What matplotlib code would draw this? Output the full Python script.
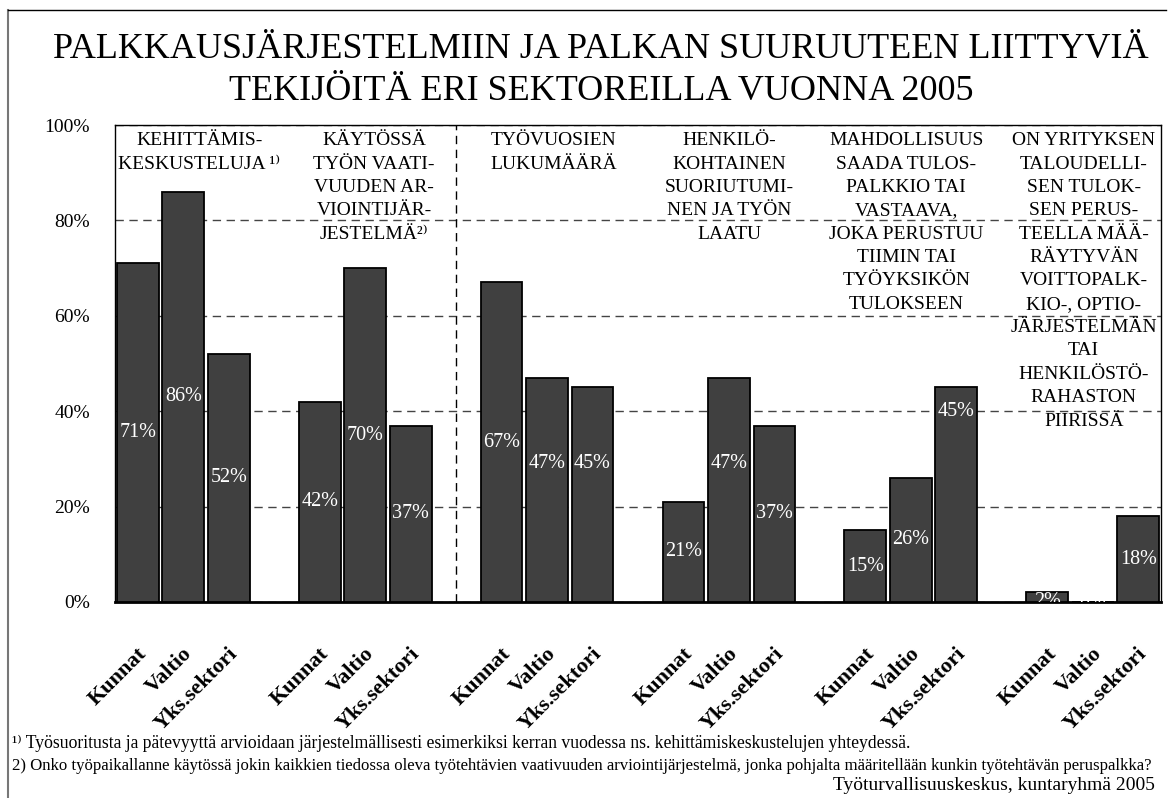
import matplotlib
matplotlib.use('Agg')
import matplotlib.pyplot as plt
from matplotlib.lines import Line2D
from matplotlib.transforms import ScaledTranslation

plt.rcParams['font.family'] = ['Liberation Serif', 'DejaVu Serif', 'DejaVu Sans']

# data
sektorit = ['Kunnat', 'Valtio', 'Yks.sektori']
otsikot = [
    'KEHITTÄMIS-\nKESKUSTELUJA ¹⁾',
    'KÄYTÖSSÄ\nTYÖN VAATI-\nVUUDEN AR-\nVIOINTIJÄR-\nJESTELMÄ²⁾',
    'TYÖVUOSIEN\nLUKUMÄÄRÄ',
    'HENKILÖ-\nKOHTAINEN\nSUORIUTUMI-\nNEN JA TYÖN\nLAATU',
    'MAHDOLLISUUS\nSAADA TULOS-\nPALKKIO TAI\nVASTAAVA,\nJOKA PERUSTUU\nTIIMIN TAI\nTYÖYKSIKÖN\nTULOKSEEN',
    'ON YRITYKSEN\nTALOUDELLI-\nSEN TULOK-\nSEN PERUS-\nTEELLA MÄÄ-\nRÄYTYVÄN\nVOITTOPALK-\nKIO-, OPTIO-\nJÄRJESTELMÄN\nTAI\nHENKILÖSTÖ-\nRAHASTON\nPIIRISSÄ',
]
kunnat = [71, 42, 67, 21, 15, 2]
valtio = [86, 70, 47, 47, 26, 0]
yks = [52, 37, 45, 37, 45, 18]

W, H = 1174, 798
fig = plt.figure(figsize=(W / 100, H / 100), dpi=100)
ax = fig.add_axes([115 / W, 1 - 602 / H, (1161 - 115) / W, (602 - 125) / H])

bar_col = '#404040'
sarjat = [kunnat, valtio, yks]
# label heights that are not centred in the bar (layout only)
lab_y = {(2, 1): 29, (2, 2): 29, (3, 1): 29, (4, 2): 40, (5, 0): 0}

for j, sarja in enumerate(sarjat):
    xs = [4 * g + j for g in range(len(sarja))]
    ax.bar(xs, sarja, width=0.92, color=bar_col, edgecolor='black',
           linewidth=1.3, zorder=3)
    for g, v in enumerate(sarja):
        y = lab_y.get((g, j), v / 2)
        ax.text(4 * g + j, y, f'{v}%', color='white', fontsize=14.5,
                ha='center', va='center', zorder=4, clip_on=True)

ax.set_xlim(-0.5, 22.5)
ax.set_ylim(0, 100)

pos = [4 * g + j for g in range(6) for j in range(3)]
ax.set_xticks(pos)
ax.set_xticklabels(sektorit * 6, rotation=45, ha='right', va='center',
                   rotation_mode='anchor', fontweight='bold', fontsize=16)
ax.tick_params(axis='x', length=0, pad=35)
shift = ScaledTranslation(6 / 100, 0, fig.dpi_scale_trans)
for lab in ax.get_xticklabels():
    lab.set_transform(lab.get_transform() + shift)

ax.set_yticks(range(0, 101, 20))
ax.set_yticklabels([f'{v}%' for v in range(0, 101, 20)], fontsize=14)
ax.tick_params(axis='y', length=0, pad=18)

ax.yaxis.grid(True, linestyle=(0, (6, 4)), color='#444444', linewidth=1)
ax.set_axisbelow(True)
for s in ax.spines.values():
    s.set_linewidth(1)
ax.spines['bottom'].set_linewidth(2)

# divider between the groups
ax.plot([7, 7], [0, 100], color='black', linestyle=(0, (6, 4)), linewidth=1, zorder=2)
ax.add_line(Line2D([455 / W, 362 / W], [1 - 602 / H, 1 - 712 / H],
                   transform=fig.transFigure, color='black',
                   linestyle=(0, (6, 4)), linewidth=1))

offs = [0.35, 0.2, 0.15, 0.0, -0.1, -0.2]
for g, t in enumerate(otsikot):
    ax.text(4 * g + 1 + offs[g], 98.5, t, ha='center', va='top', fontsize=14,
            linespacing=1.49, zorder=5)

fig.text(601 / W, 1 - 50 / H, 'PALKKAUSJÄRJESTELMIIN JA PALKAN SUURUUTEEN LIITTYVIÄ',
         ha='center', va='center', fontsize=26)
fig.text(601 / W, 1 - 92 / H, 'TEKIJÖITÄ ERI SEKTOREILLA VUONNA 2005',
         ha='center', va='center', fontsize=26)

fig.text(12 / W, 1 - 743 / H,
         '¹⁾ Työsuoritusta ja pätevyyttä arvioidaan järjestelmällisesti esimerkiksi '
         'kerran vuodessa ns. kehittämiskeskustelujen yhteydessä.',
         ha='left', va='center', fontsize=12.7)
fig.text(12 / W, 1 - 766 / H,
         '2) Onko työpaikallanne käytössä jokin kaikkien tiedossa oleva työtehtävien '
         'vaativuuden arviointijärjestelmä, jonka pohjalta määritellään kunkin '
         'työtehtävän peruspalkka?',
         ha='left', va='center', fontsize=12.1)
fig.text(1155 / W, 1 - 786 / H, 'Työturvallisuuskeskus, kuntaryhmä 2005',
         ha='right', va='center', fontsize=14)

# outer frame
fig.add_artist(Line2D([8 / W, 8 / W], [0, 1 - 10 / H], color='#777777', linewidth=1.5))
fig.add_artist(Line2D([8 / W, 1166 / W], [1 - 10 / H, 1 - 10 / H], color='black', linewidth=1))

fig.savefig('out.png', dpi=100)
